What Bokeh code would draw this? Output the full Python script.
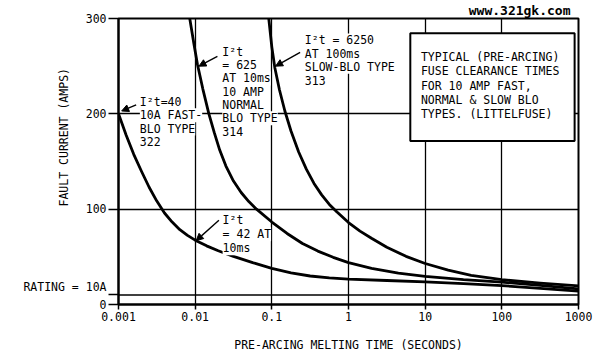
from bokeh.plotting import figure
from bokeh.models import (Range1d, FixedTicker, CustomJSTickFormatter, Span, Label,
                          BoxAnnotation, Arrow, NormalHead)
from bokeh.embed import file_html
from bokeh.resources import INLINE

# ---------------- data ----------------
x_ticks = [0.001, 0.01, 0.1, 1, 10, 100, 1000]
x_tick_labels = ["0.001", "0.01", "0.1", "1", "10", "100", "1000"]
rating_amps = 10
rating_label = "RATING = 10A"
y_ticks = [0, rating_amps, 100, 200, 300]
# the empty second line lifts the rating text a little above its tick
y_tick_labels = ["0", rating_label + "\n\u00a0", "100", "200", "300"]
y_grid = [100, 200]

# Fast-blo type 322 (I2t = 40)
fast_time = [0.001, 0.00126, 0.00158, 0.002, 0.00251, 0.00316, 0.00398, 0.00501,
             0.00631, 0.00794, 0.01, 0.0141, 0.02, 0.0316, 0.0562, 0.1, 0.178,
             0.316, 0.562, 1, 3.16, 10, 31.6, 100, 316, 1000]
fast_amps = [200, 177.5, 157.5, 139.5, 123, 108.5, 96, 86.5,
             78.5, 72.5, 67.5, 61.5, 56.4, 50.4, 43.9, 37.9, 33.1,
             29.9, 27.9, 26.7, 25.2, 23.7, 22, 19.8, 17, 14]

# Normal-blo type 314 (I2t = 625)
normal_time = [0.0085, 0.0096, 0.0107, 0.0126, 0.0151, 0.0178, 0.0209, 0.0251,
               0.0316, 0.0398, 0.0501, 0.0631, 0.1, 0.158, 0.251, 0.398, 0.631,
               1, 2, 4.47, 10, 31.6, 100, 316, 1000]
normal_amps = [300, 274, 252, 226, 200, 180, 162, 145.5,
               129.5, 117.5, 108, 100, 86.5, 74.5, 64, 56, 49.5,
               44, 38, 33, 29.5, 26, 23.5, 20, 16.5]

# Slow-blo type 313 (I2t = 6250)
slow_time = [0.0912, 0.1, 0.1096, 0.1259, 0.1479, 0.1778, 0.2239, 0.2818, 0.3548,
             0.4467, 0.5623, 0.7079, 1, 1.413, 1.995, 3.162, 5.623, 10, 19.95,
             39.81, 100, 316.2, 1000]
slow_amps = [300, 270, 248, 225, 203, 182, 160, 142, 127,
             115, 105, 97, 86, 77, 69.5, 60, 50.5, 43, 36,
             30.5, 26, 22.5, 19.5]

fast_note = ["I²t=40", "10A FAST-", "BLO TYPE", "322"]
normal_note = ["I²t", "= 625", "AT 10ms", "10 AMP", "NORMAL", "BLO TYPE", "314"]
slow_note = ["I²t = 6250", "AT 100ms", "SLOW-BLO TYPE", "313"]
low_note = ["I²t", "= 42 AT", "10ms"]
box_note = ["TYPICAL (PRE-ARCING)", "FUSE CLEARANCE TIMES", "FOR 10 AMP FAST,",
            "NORMAL & SLOW BLO", "TYPES. (LITTELFUSE)"]
x_title = "PRE-ARCING MELTING TIME (SECONDS)"
y_title = "FAULT CURRENT (AMPS)"
watermark = "www.321gk.com"

# ---------------- figure ----------------
FONT = "DejaVu Sans Mono"
FS = "11.5px"

p = figure(width=600, height=360, x_axis_type="log",
           x_range=Range1d(0.001, 1000), y_range=Range1d(0, 300),
           output_backend="svg", toolbar_location=None,
           min_border_left=118, min_border_right=22,
           min_border_top=18, min_border_bottom=56)
p.background_fill_color = "white"
p.border_fill_color = "white"
p.outline_line_color = "black"
p.outline_line_width = 2

p.title.text = watermark
p.title.align = "right"
p.title.offset = 8
p.title.standoff = 1
p.title.text_font = FONT
p.title.text_font_size = "13px"
p.title.text_font_style = "bold"
p.title.text_color = "black"

xa = p.xaxis[0]
xa.ticker = FixedTicker(ticks=x_ticks)
xa.formatter = CustomJSTickFormatter(args=dict(tv=x_ticks, lab=x_tick_labels), code="""
  for (let i = 0; i < tv.length; i++) {
    if (Math.abs(Math.log10(tv[i]) - Math.log10(tick)) < 1e-6) return lab[i];
  }
  return "";
""")
xa.axis_label = x_title
ya = p.yaxis[0]
ya.ticker = FixedTicker(ticks=y_ticks)
ya.formatter = CustomJSTickFormatter(args=dict(tv=y_ticks, lab=y_tick_labels), code="""
  for (let i = 0; i < tv.length; i++) {
    if (Math.abs(tv[i] - tick) < 1e-6) return lab[i];
  }
  return "";
""")
# leading no-break spaces lift the rotated title above the frame centre
ya.axis_label = "\u00a0" * 7 + y_title
for ax in (xa, ya):
    ax.axis_line_color = "black"
    ax.axis_line_width = 2
    ax.major_tick_line_color = "black"
    ax.major_tick_line_width = 1.5
    ax.major_tick_in = 0
    ax.minor_tick_out = 0
    ax.minor_tick_in = 0
    ax.major_label_text_font = FONT
    ax.major_label_text_font_size = FS
    ax.major_label_text_color = "black"
    ax.major_label_standoff = 2
    ax.axis_label_text_font = FONT
    ax.axis_label_text_font_size = FS
    ax.axis_label_text_font_style = "normal"
    ax.axis_label_text_color = "black"
xa.major_tick_out = 5
xa.axis_label_standoff = 14
ya.major_tick_out = 10
ya.axis_label_standoff = -51

xg = p.xgrid[0]
xg.ticker = FixedTicker(ticks=x_ticks)
yg = p.ygrid[0]
yg.ticker = FixedTicker(ticks=y_grid)
for g in (xg, yg):
    g.grid_line_color = "black"
    g.grid_line_width = 1.3
    g.grid_line_alpha = 1

p.add_layout(Span(location=rating_amps, dimension="width", line_color="black", line_width=1.6))

for t, a in [(fast_time, fast_amps), (normal_time, normal_amps), (slow_time, slow_amps)]:
    p.line(t, a, line_color="black", line_width=2.8, line_join="round")


def note(lines, x, y, step):
    for k, s in enumerate(lines):
        p.add_layout(Label(x=x, y=y, y_offset=-k * step, text=s, text_font=FONT,
                           text_font_size=FS, text_color="black", text_align="left",
                           text_baseline="middle", background_fill_color="white",
                           background_fill_alpha=1.0))


def arrow(xs, ys, xe, ye):
    p.add_layout(Arrow(end=NormalHead(size=7, fill_color="black", line_color="black",
                                      line_width=1),
                       x_start=xs, y_start=ys, x_end=xe, y_end=ye,
                       line_color="black", line_width=1.4))


# legend box
p.add_layout(BoxAnnotation(left=6.4, right=890, bottom=171.5, top=284.5,
                           fill_color="white", fill_alpha=1.0,
                           line_color="black", line_width=2, line_alpha=1.0))
note(box_note, 8.8, 259.4, 14.2)

note(fast_note, 0.0019, 212.7, 13.4)
note(normal_note, 0.0226, 265, 13.3)
note(slow_note, 0.269, 277, 13.2)
note(low_note, 0.0228, 88.3, 14)

arrow(0.0017, 209.4, 0.0011, 203)
arrow(0.0195, 260.3, 0.0112, 250)
arrow(0.234, 264.4, 0.112, 250)
arrow(0.0204, 88.3, 0.0103, 67)

open("out.html", "w").write(file_html(p, INLINE))
